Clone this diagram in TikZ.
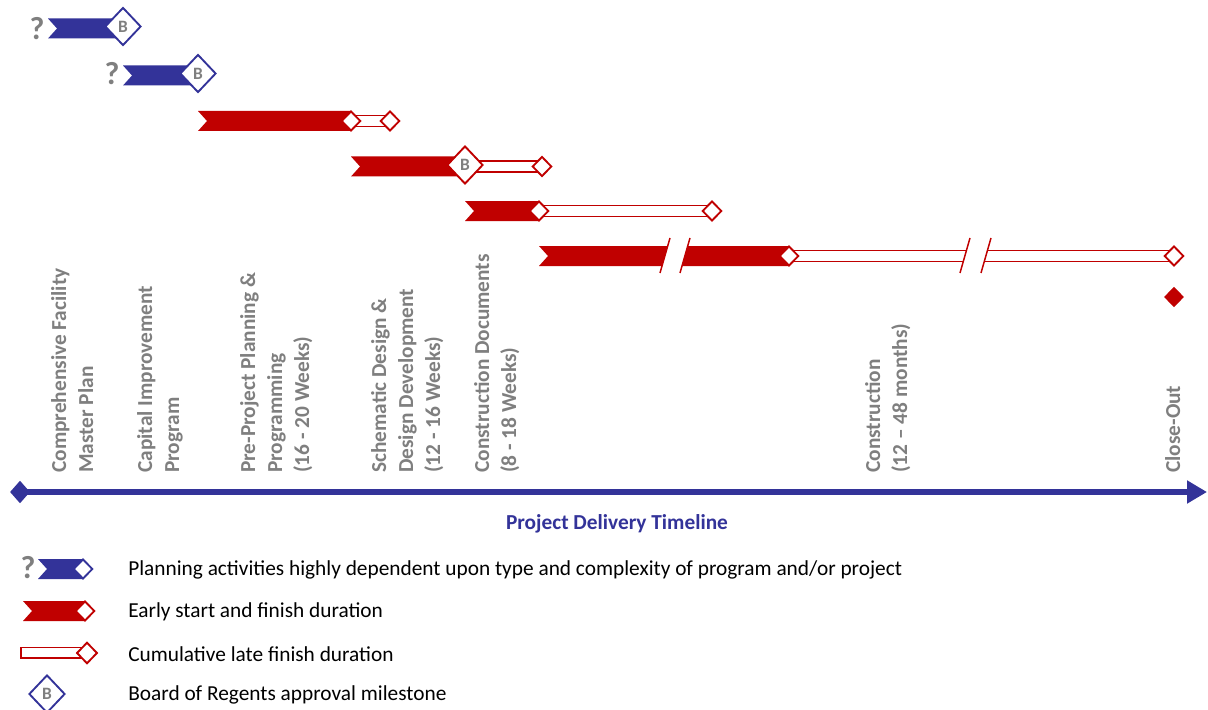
\documentclass[tikz,border=0pt]{standalone}
\usepackage{fontspec}
\setmainfont{Carlito}
\usetikzlibrary{shapes.geometric,arrows.meta,backgrounds}
\definecolor{pblue}{RGB}{51,51,153}
\definecolor{pred}{RGB}{192,0,0}
\definecolor{pgray}{RGB}{127,127,127}
\newcommand\chevbar[5]{\fill[#1] (#2,#4) -- (#2+9,{(#4+#5)/2}) -- (#2,#5) -- (#3,#5) -- (#3,#4) -- cycle;}
\newcommand\hollowbar[4]{\draw[draw=pred,fill=white,line width=1.1pt] (#1,#3) rectangle (#2,#4);}
\newcommand\breakmark[2]{%
  \fill[white] (#1,273) -- (#1+10,238) -- (#2+10,238) -- (#2,273) -- cycle;
  \draw[pred,line width=1.1pt] (#1,273) -- (#1+10,238) (#2,273) -- (#2+10,238);}
\begin{document}
\begin{tikzpicture}[x=0.75pt,y=-0.75pt,
  bdia/.style={diamond, aspect=1, draw=pblue, fill=white, line width=1.4pt, minimum width=27pt, minimum height=28.5pt, inner sep=0pt, font=\fontsize{13}{14}\selectfont\bfseries, text=pgray},
  sdia/.style={diamond, aspect=1, draw=pred, fill=white, line width=1.4pt, minimum width=14.5pt, minimum height=15pt, inner sep=0pt},
  vlab/.style={rotate=90, anchor=mid west, inner sep=0pt, text=pgray, font=\fontsize{16}{18}\selectfont\bfseries},
  dashline/.style={draw=pgray, line width=1.2pt, dash pattern=on 4.5pt off 3pt},
  qmark/.style={text=pgray, font=\fontsize{24}{26}\selectfont\bfseries, inner sep=0pt},
  legtext/.style={anchor=west, inner sep=0pt, font=\fontsize{16}{18}\selectfont, text=black},
]
\useasboundingbox (0,0) rectangle (1208,710);
\fill[white] (0,0) rectangle (1208,710);

% ---- bars
\chevbar{pblue}{48}{123}{18.5}{38.5}
\chevbar{pblue}{123}{198}{65.5}{85.5}
\chevbar{pred}{198}{351}{111}{131}
\chevbar{pred}{351}{465}{156.5}{176.5}
\chevbar{pred}{465}{539}{201}{221}
\chevbar{pred}{539}{789}{246}{266}
\breakmark{660}{680}
\hollowbar{351}{390}{115.5}{126.5}
\hollowbar{465}{542}{161}{172}
\hollowbar{539}{712}{205.5}{216.5}
\hollowbar{789}{1174}{250.5}{261.5}
\breakmark{960}{981}

% ---- milestones
\node[bdia] (b1) at (123,26.5) {B};
\node[bdia] (b2) at (198,73.5) {B};
\node[sdia] (s3a) at (351,121) {};
\node[sdia] (s3b) at (390,121) {};
\node[bdia, draw=pred] (b4) at (465,165) {B};
\node[sdia] (s4b) at (542,166.5) {};
\node[sdia] (s5a) at (539,211) {};
\node[sdia] (s5b) at (712,211) {};
\node[sdia] (s6a) at (789,256) {};
\node[sdia] (s6b) at (1174,256) {};
\node[diamond, aspect=1, fill=pred, minimum width=15pt, minimum height=15.5pt, inner sep=0pt] (close) at (1174,297) {};
\node[qmark] (q1) at (37,29) {?};
\node[qmark] (q2) at (112,74) {?};

% ---- timeline axis
\coordinate (axR) at (1207,492);
\node[diamond, aspect=1, fill=pblue, minimum width=15pt, minimum height=17pt, inner sep=0pt] (axL) at (20,492) {};
\draw[pblue, line width=4.5pt, -{Triangle[length=15pt,width=16.5pt]}] (axL.center) -- (axR);
\node[font=\fontsize{16}{18}\selectfont\bfseries, text=pblue] (title) at (617,524) {Project Delivery Timeline};

% ---- dashed phase separators
\begin{pgfonlayer}{background}
\draw[dashline] (b1.south) -- (b1.south |- axL.center);
\draw[dashline] (b2.south) -- (b2.south |- axL.center);
\draw[dashline] (s3a.south) -- (s3a.south |- axL.center);
\draw[dashline] (b4.south) -- (b4.south |- axL.center);
\draw[dashline] (s5a.south) -- (s5a.south |- axL.center);
\end{pgfonlayer}

% ---- phase labels
\node[vlab] (l1a) at (63,473) {Comprehensive Facility};
\node[vlab] (l1b) at (90,473) {Master Plan};
\node[vlab] (l2a) at (149,473) {Capital Improvement};
\node[vlab] (l2b) at (176,473) {Program};
\node[vlab] (l3a) at (252,473) {Pre-Project Planning \&};
\node[vlab] (l3b) at (279,473) {Programming};
\node[vlab] (l3c) at (306,473) {(16 - 20 Weeks)};
\node[vlab] (l4a) at (383,473) {Schematic Design \&};
\node[vlab] (l4b) at (410,473) {Design Development};
\node[vlab] (l4c) at (437,473) {(12 - 16 Weeks)};
\node[vlab] (l5a) at (486,473) {Construction Documents};
\node[vlab] (l5b) at (513,473) {(8 - 18 Weeks)};
\node[vlab] (l6a) at (877,473) {Construction};
\node[vlab] (l6b) at (904,473) {(12 – 48 months)};
\node[vlab] (l7a) at (1177,473) {Close-Out};

% ---- legend
\node[qmark] (lq) at (28,568) {?};
\chevbar{pblue}{38}{83}{559}{579}
\node[diamond, aspect=1, draw=pblue, fill=white, line width=1.4pt, minimum width=14.5pt, minimum height=15pt, inner sep=0pt] (ld1) at (83,569) {};
\chevbar{pred}{23}{85}{601}{621}
\node[sdia] (ld2) at (85,611) {};
\hollowbar{21}{87}{647.5}{658}
\node[sdia, minimum width=15.5pt, minimum height=16pt] (ld3) at (87,653) {};
\node[bdia] (ld4) at (47,694) {B};
\node[legtext] (t1) at (128,570) {Planning activities highly dependent upon type and complexity of program and/or project};
\node[legtext] (t2) at (128,612) {Early start and finish duration};
\node[legtext] (t3) at (128,654) {Cumulative late finish duration};
\node[legtext] (t4) at (128,695) {Board of Regents approval milestone};
\end{tikzpicture}
\end{document}
